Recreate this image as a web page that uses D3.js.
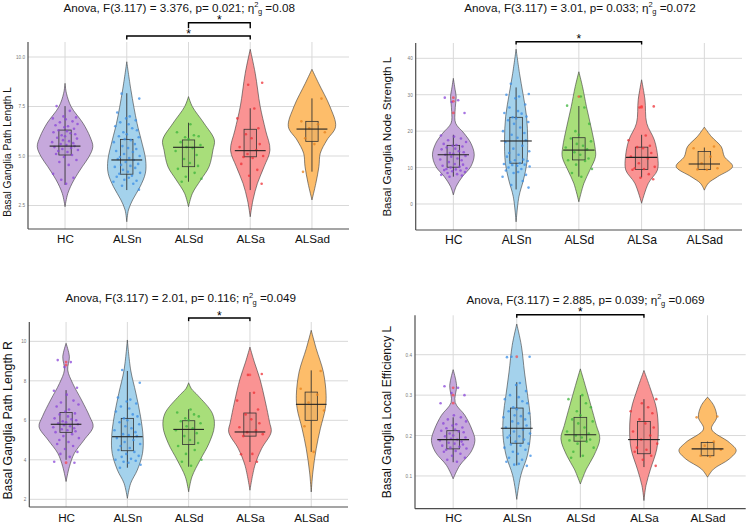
<!DOCTYPE html>
<html><head><meta charset="utf-8">
<script src="https://cdn.jsdelivr.net/npm/d3@7"></script>
<style>body{margin:0;background:#fff}svg{display:block}text{font-family:"Liberation Sans",Arial,sans-serif}</style>
</head><body>
<svg id="chart" width="750" height="524"></svg>
<script>
// ---------------- DATA ----------------
const groups = ["HC", "ALSn", "ALSd", "ALSa", "ALSad"];

const titlePre = [
  "Anova, F(3.117) = 3.376, p= 0.021; η",
  "Anova, F(3.117) = 3.01, p= 0.033; η",
  "Anova, F(3.117) = 2.01, p= 0.116; η",
  "Anova, F(3.117) = 2.885, p= 0.039; η"
];
const titlePost = [" =0.08", " =0.072", " =0.049", " =0.069"];
const yLabels = [
  "Basal Ganglia Path Length L",
  "Basal Ganglia Node Strength L",
  "Basal Ganglia Path Length R",
  "Basal Ganglia Local Efficiency L"
];
const yTicksTL = [2.5, 5.0, 7.5, 10.0];
const yTicksTR = [0, 10, 20, 30, 40];
const yTicksBL = [2, 4, 6, 8, 10];
const yTicksBR = [0.1, 0.2, 0.3, 0.4];
const tickFormats = [".1f", "d", "d", ".1f"];

// jittered observations per group (HC, ALSn, ALSd, ALSa, ALSad)
const pointsTL = [
  [7.52,7.28,7.0,6.95,6.9,6.85,6.75,6.7,6.62,6.55,6.5,6.45,6.38,6.3,6.25,6.2,6.15,6.1,6.05,6.0,5.92,5.88,5.8,5.75,5.7,5.65,5.6,5.55,5.5,5.45,5.4,5.35,5.3,5.25,5.2,5.1,5.05,4.95,4.8,4.7,4.55,4.1,3.9,3.8,3.6],
  [8.15,7.9,7.2,7.0,6.9,6.8,6.7,6.6,6.5,6.4,6.3,6.2,6.1,6.0,5.95,5.85,5.8,5.7,5.6,5.5,5.4,5.35,5.25,5.2,5.1,5.0,4.95,4.9,4.85,4.8,4.7,4.6,4.55,4.5,4.45,4.4,4.3,4.2,4.15,4.1,4.0,3.95,3.9,3.8,3.75,3.7,3.6,3.5,3.3],
  [6.6,6.2,6.05,6.0,5.95,5.85,5.7,5.55,5.45,5.4,5.25,5.05,4.85,4.65,4.5,4.35,4.15,3.95,3.85,3.7],
  [8.7,8.6,7.4,6.9,6.4,6.1,5.9,5.6,5.45,5.3,5.1,5.0,4.95,4.9,4.6,4.3,4.0,3.6],
  [7.9,6.75,6.6,6.4,6.2,5.9,5.6,4.2]
];
const pointsTR = [
  [29.2,28.5,28.0,25.0,18.8,18.5,18.0,17.5,17.0,16.5,16.2,16.0,15.8,15.5,15.2,15.0,14.5,14.2,14.0,13.8,13.5,13.2,13.0,12.5,12.2,12.0,11.5,11.0,10.8,10.5,10.2,10.0,9.8,9.6,9.5,9.3,9.2,9.0,8.8,8.5,8.2,8.0,7.8,7.5],
  [33,30.2,30,29.5,29,27.3,26.5,25.5,25,24.8,24,23.8,23.5,23,22.5,22,21,20,19.5,19,18.2,17.5,17,16,15.2,14.5,14,13.5,13,12.2,12,11.8,11.5,11.2,11,10.8,10.7,10.5,10.3,10,9.6,9.2,8.8,8.5,8,7.5,6.3,5.2,4.5],
  [29.5,27,26.5,22,20,19,18,17.2,16.5,16,15.5,15,14.2,13.5,12.5,12,11.8,10.8,9.6,8.5,7.5],
  [26.8,26.5,18.8,17.5,16,15.6,15.3,14,13,12.5,11.2,10.2,9.8,9.6,9.4,8.2,7.2,6.8],
  [15.8,15.3,13,11.2,9.8,9.5,9.4]
];
const pointsBL = [
  [9.05,8.95,8.7,7.65,7.5,7.3,7.0,6.9,6.8,6.7,6.55,6.45,6.35,6.3,6.2,6.1,6.05,6.0,5.95,5.9,5.85,5.8,5.75,5.7,5.65,5.6,5.55,5.5,5.45,5.4,5.3,5.2,5.1,5.0,4.9,4.8,4.7,4.55,4.4,4.3,4.15,3.9,3.85],
  [8.55,7.9,7.15,7.05,6.95,6.85,6.7,6.6,6.45,6.3,6.2,6.1,6.0,5.9,5.8,5.7,5.6,5.5,5.4,5.3,5.25,5.2,5.1,5.0,4.9,4.8,4.7,4.6,4.5,4.4,4.3,4.2,4.15,4.05,4.0,3.95,3.9,3.85,3.75,3.6],
  [6.55,6.4,6.3,6.2,6.1,6.0,5.95,5.85,5.7,5.6,5.5,5.35,5.2,5.0,4.85,4.7,4.5,4.3,4.0,3.9,3.7],
  [8.35,8.3,7.4,7.0,6.55,6.3,6.05,5.85,5.65,5.5,5.4,5.3,5.2,4.3,4.28,3.9],
  [8.5,7.6,7.3,6.9,6.5,5.7,4.4]
];
const pointsBR = [
  [0.322,0.318,0.305,0.3,0.28,0.25,0.245,0.24,0.235,0.23,0.228,0.225,0.22,0.218,0.215,0.212,0.21,0.208,0.205,0.2,0.198,0.195,0.192,0.19,0.188,0.185,0.182,0.18,0.178,0.175,0.172,0.17,0.168,0.165,0.162,0.16,0.155,0.15,0.145,0.14,0.135],
  [0.395,0.395,0.394,0.33,0.325,0.31,0.3,0.295,0.29,0.285,0.28,0.27,0.265,0.26,0.255,0.25,0.248,0.245,0.24,0.235,0.23,0.225,0.22,0.215,0.21,0.205,0.2,0.198,0.195,0.19,0.185,0.18,0.178,0.175,0.17,0.165,0.16,0.155,0.15,0.145,0.14,0.135,0.13,0.128,0.125],
  [0.3,0.29,0.28,0.27,0.26,0.25,0.24,0.235,0.23,0.22,0.21,0.205,0.2,0.195,0.19,0.188,0.185,0.18,0.17,0.16,0.15,0.145],
  [0.29,0.28,0.27,0.26,0.255,0.24,0.23,0.22,0.21,0.2,0.19,0.18,0.17,0.165,0.16,0.15,0.14,0.125],
  [0.247,0.245,0.185,0.175,0.165,0.15,0.148]
];

// boxplot outliers per group
const outliersTL = [[], [], [], [], []];
const outliersTR = [[29.2, 28.2, 25.0], [], [29.5], [26.8, 26.5], []];
const outliersBL = [[8.95, 8.8, 3.85], [], [], [8.3], []];
const outliersBR = [[0.318, 0.3, 0.28], [0.395], [], [], []];

// box stats: [lower whisker, q1, median, q3, upper whisker]
const boxesTL = [[3.54,5.05,5.5,6.31,7.52],[3.28,4.08,4.8,5.84,8.17],[3.7,4.46,5.44,5.81,6.68],[3.28,4.96,5.27,6.35,7.41],[4.21,5.74,6.36,6.75,7.91]];
const boxesTR = [[7.5,10.1,13.5,16.1,19],[4,11.2,17.3,23.8,32],[7.5,12.1,14.8,18.2,26.9],[7.3,9.5,12.8,15.6,19],[9.3,9.5,11,14.4,15.5]];
const boxesBL = [[4.0,5.39,5.8,6.4,7.53],[3.6,4.46,5.17,6.1,8.5],[3.65,4.78,5.54,5.98,6.56],[3.89,5.2,5.41,6.37,7.43],[4.4,6.0,6.81,7.43,8.53]];
const boxesBR = [[0.134,0.167,0.19,0.212,0.245],[0.126,0.181,0.218,0.268,0.332],[0.146,0.186,0.202,0.245,0.3],[0.122,0.155,0.19,0.235,0.29],[0.148,0.15,0.167,0.183,0.185]];

// violin density profiles: [value, relative density]
const violinsTL = [
  [[8.67,0],[8.17,0.05],[7.49,0.22],[6.65,0.65],[5.97,0.9],[5.47,1.0],[4.96,0.86],[4.46,0.62],[3.79,0.32],[3.11,0.1],[2.44,0]],
  [[9.76,0],[8.33,0.15],[6.65,0.37],[5.81,0.52],[4.8,0.68],[4.13,0.67],[3.45,0.48],[2.78,0.21],[2.27,0.06],[1.68,0]],
  [[8.0,0],[7.49,0.14],[6.65,0.56],[5.81,0.93],[5.3,0.88],[4.46,0.74],[3.79,0.44],[3.11,0.14],[2.44,0]],
  [[10.39,0],[9.18,0.18],[7.49,0.36],[6.31,0.55],[5.3,0.71],[4.46,0.5],[3.62,0.26],[2.78,0.1],[1.93,0]],
  [[9.38,0],[8.67,0.24],[7.49,0.65],[6.48,0.85],[5.81,0.54],[5.14,0.3],[4.46,0.25],[3.62,0.14],[2.78,0]]
];
const violinsTR = [
  [[34.5,0],[31.5,0.06],[29.5,0.1],[27.5,0.08],[25.4,0.06],[22.2,0.08],[19.4,0.38],[16.7,0.62],[13.5,0.74],[10.3,0.62],[7.5,0.32],[4.8,0.1],[2.5,0]],
  [[42.5,0],[35.9,0.12],[30.4,0.24],[24,0.37],[17.6,0.41],[11.2,0.38],[6.6,0.26],[2,0.1],[-4.9,0]],
  [[36.3,0],[32.2,0.13],[26.7,0.27],[21.2,0.43],[15.7,0.57],[13,0.59],[9.3,0.39],[5.7,0.18],[0.6,0]],
  [[34.1,0],[28.6,0.12],[22.2,0.18],[17.6,0.45],[13,0.57],[9.3,0.56],[5.7,0.24],[0.2,0]],
  [[21.1,0],[18.5,0.25],[15.7,0.6],[13,0.71],[10.3,1.0],[7.5,0.47],[5.7,0.14],[3.8,0]]
];
const violinsBL = [
  [[9.9,0],[9.22,0.12],[8.55,0.06],[7.87,0.24],[7.03,0.56],[6.18,0.86],[5.68,0.98],[5.0,0.65],[4.33,0.3],[3.65,0.12],[2.9,0]],
  [[10.07,0],[8.55,0.12],[7.37,0.31],[6.18,0.48],[5.17,0.57],[4.33,0.55],[3.48,0.36],[2.81,0.12],[2.05,0]],
  [[7.9,0],[7.6,0.1],[7.25,0.34],[6.35,0.86],[5.68,0.93],[4.84,0.74],[4.0,0.42],[3.14,0.12],[2.38,0]],
  [[9.71,0],[8.95,0.16],[8.1,0.36],[6.93,0.56],[5.91,0.71],[5.41,0.77],[4.56,0.42],[3.72,0.18],[2.46,0]],
  [[10.56,0],[9.63,0.18],[8.45,0.44],[7.27,0.54],[6.59,0.51],[5.57,0.33],[4.56,0.18],[3.38,0.06],[2.37,0]]
];
const violinsBR = [
  [[0.363,0],[0.324,0.12],[0.282,0.07],[0.25,0.41],[0.216,0.65],[0.188,0.76],[0.159,0.62],[0.126,0.23],[0.093,0]],
  [[0.476,0],[0.423,0.16],[0.357,0.27],[0.299,0.38],[0.25,0.47],[0.2,0.48],[0.15,0.37],[0.101,0.14],[0.042,0]],
  [[0.365,0],[0.324,0.17],[0.274,0.37],[0.225,0.56],[0.192,0.68],[0.15,0.47],[0.117,0.21],[0.08,0]],
  [[0.361,0],[0.315,0.23],[0.266,0.44],[0.216,0.5],[0.167,0.45],[0.117,0.23],[0.076,0.07],[0.039,0]],
  [[0.295,0],[0.274,0.22],[0.245,0.32],[0.216,0.14],[0.183,0.76],[0.163,1.0],[0.142,0.76],[0.117,0.21],[0.097,0]]
];

// significance comparisons: [group A, group B, bracket height in data units]
const compsTL = [["ALSn", "ALSa", 11.06], ["ALSd", "ALSa", 11.73]];
const compsTR = [["ALSn", "ALSa", 44.56]];
const compsBL = [["ALSd", "ALSa", 11.18]];
const compsBR = [["ALSn", "ALSa", 0.499]];

// ---------------- STYLE / LAYOUT ----------------
const violinFill = ["#c6a8dc", "#a4d2ec", "#a8de7a", "#fa9393", "#fdbd6a"];
const pointColor = ["#8a45d8", "#3a8ee6", "#3cb43c", "#ee3035", "#e6821e"];
const jitter = [-0.62,0.35,-0.12,0.81,-0.9,0.05,0.55,-0.38,0.92,-0.7,0.22,-0.05,0.66,-0.48,0.14,-0.85,0.4,0.75,-0.25,0.0,-0.58,0.88,-0.15,0.3,-0.95,0.6,-0.32,0.1,0.7,-0.78,0.45,-0.2,0.95,-0.5,0.18,-0.66,0.52,-0.08,0.84,-0.42,0.27,-0.88,0.62,-0.28,0.08,0.98,-0.55,0.38,-0.74,0.15,-0.18,0.72,-0.98,0.48,-0.35,0.9,-0.02,0.58,-0.82,0.25];

const layouts = [
  {left:28, right:349, top:42, bottom:229, yDomain:[1.313,10.758], titleX:179.2, titleY:11.5, ylabX:7.7, ylabY:152, ylabSize:10.2, xlabY:243.5, xlabSize:11.7, tips:[3.5,5.5]},
  {left:415.7, right:742, top:43, bottom:230, yDomain:[-7.14,44.2], titleX:580, titleY:11.5, ylabX:386.3, ylabY:136.7, ylabSize:11.6, xlabY:243.5, xlabSize:12.2, tips:[2.8]},
  {left:29.3, right:348, top:322, bottom:507, yDomain:[1.61,10.98], titleX:180.8, titleY:302, ylabX:7.7, ylabY:420.3, ylabSize:12.3, xlabY:522, xlabSize:11.7, tips:[3.3]},
  {left:415, right:745.7, top:315.3, bottom:508.7, yDomain:[0.019,0.4975], titleX:585.5, titleY:303.5, ylabX:387, ylabY:412, ylabSize:12.1, xlabY:522, xlabSize:11.7, tips:[3]}
];

const panelData = [
  {ticks:yTicksTL, points:pointsTL, outliers:outliersTL, boxes:boxesTL, violins:violinsTL, comps:compsTL},
  {ticks:yTicksTR, points:pointsTR, outliers:outliersTR, boxes:boxesTR, violins:violinsTR, comps:compsTR},
  {ticks:yTicksBL, points:pointsBL, outliers:outliersBL, boxes:boxesBL, violins:violinsBL, comps:compsBL},
  {ticks:yTicksBR, points:pointsBR, outliers:outliersBR, boxes:boxesBR, violins:violinsBR, comps:compsBR}
];

// ---------------- DRAW ----------------
const svg = d3.select("#chart");

panelData.forEach((P, pi) => {
  const L = layouts[pi];
  const g = svg.append("g");
  const x = d3.scalePoint().domain(groups).range([L.left, L.right]).padding(0.6);
  const y = d3.scaleLinear().domain(L.yDomain).range([L.bottom, L.top]);
  const step = x.step();
  const dW = d3.scaleLinear().domain([0, 1]).range([0, 0.45 * step]);

  // grid
  g.selectAll("line.hg").data(P.ticks).join("line").attr("class", "hg")
    .attr("x1", L.left).attr("x2", L.right)
    .attr("y1", d => y(d)).attr("y2", d => y(d))
    .attr("stroke", "#d9d9d9").attr("stroke-width", 1);
  g.selectAll("line.vg").data(groups).join("line").attr("class", "vg")
    .attr("x1", d => x(d)).attr("x2", d => x(d))
    .attr("y1", L.top).attr("y2", L.bottom)
    .attr("stroke", "#d9d9d9").attr("stroke-width", 1);

  groups.forEach((grp, i) => {
    const cx = x(grp);
    const area = d3.area()
      .y(d => y(d[0]))
      .x0(d => cx - dW(d[1]))
      .x1(d => cx + dW(d[1]))
      .curve(d3.curveCatmullRom.alpha(0.5));
    g.append("path").datum(P.violins[i]).attr("d", area)
      .attr("fill", violinFill[i]).attr("stroke", "#3a3a3a").attr("stroke-width", 0.6);

    const b = P.boxes[i];
    const bw = 0.1 * step;
    g.append("line").attr("x1", cx).attr("x2", cx).attr("y1", y(b[0])).attr("y2", y(b[4]))
      .attr("stroke", "#333").attr("stroke-width", 0.9);
    g.append("rect").attr("x", cx - bw).attr("width", 2 * bw)
      .attr("y", y(b[3])).attr("height", y(b[1]) - y(b[3]))
      .attr("fill", d3.color(violinFill[i]).darker(0.25)).attr("fill-opacity", 0.55)
      .attr("stroke", "#333").attr("stroke-width", 0.8);

    const off = i * 7;
    g.selectAll(null).data(P.points[i]).join("circle")
      .attr("cx", (d, k) => cx + jitter[(k + off) % jitter.length] * 0.22 * step)
      .attr("cy", d => y(d))
      .attr("r", 1.3)
      .attr("fill", pointColor[i]).attr("fill-opacity", 0.75);
    g.selectAll(null).data(P.outliers[i]).join("circle")
      .attr("cx", cx).attr("cy", d => y(d)).attr("r", 1.4)
      .attr("fill", "#ff3030").attr("fill-opacity", 0.6);

    g.append("line").attr("x1", cx - 0.25 * step).attr("x2", cx + 0.25 * step)
      .attr("y1", y(b[2])).attr("y2", y(b[2]))
      .attr("stroke", "#222").attr("stroke-width", 1.1);
  });

  // axis lines
  g.append("line").attr("x1", L.left).attr("x2", L.left).attr("y1", L.top).attr("y2", L.bottom)
    .attr("stroke", "#4d4d4d").attr("stroke-width", 1.2);
  g.append("line").attr("x1", L.left).attr("x2", L.right).attr("y1", L.bottom).attr("y2", L.bottom)
    .attr("stroke", "#4d4d4d").attr("stroke-width", 1.2);

  const ya = g.append("g").attr("transform", `translate(${L.left},0)`)
    .call(d3.axisLeft(y).tickValues(P.ticks).tickFormat(d3.format(tickFormats[pi])).tickSize(0).tickPadding(3));
  ya.select(".domain").remove();
  ya.selectAll("text").attr("font-size", 4.6).attr("fill", "#777").style("font-family", "'Liberation Sans',Arial,sans-serif");

  const pad = L.xlabY - L.bottom - 0.71 * L.xlabSize;
  const xa = g.append("g").attr("transform", `translate(0,${L.bottom})`)
    .call(d3.axisBottom(x).tickSize(0).tickPadding(pad));
  xa.select(".domain").remove();
  xa.selectAll("text").attr("font-size", L.xlabSize).attr("fill", "#111").style("font-family", "'Liberation Sans',Arial,sans-serif");

  g.append("text").attr("transform", `translate(${L.ylabX},${L.ylabY}) rotate(-90)`)
    .attr("text-anchor", "middle").attr("dominant-baseline", "central")
    .attr("font-size", L.ylabSize).attr("fill", "#111").text(yLabels[pi]);

  const t = g.append("text").attr("x", L.titleX).attr("y", L.titleY)
    .attr("text-anchor", "middle").attr("font-size", 11.7).attr("fill", "#111");
  t.append("tspan").text(titlePre[pi]);
  t.append("tspan").attr("font-size", 7.5).attr("dy", -4.5).text("2");
  t.append("tspan").attr("font-size", 7.5).attr("dx", -0.5).attr("dy", 7).text("g");
  t.append("tspan").attr("dy", -2.5).text(titlePost[pi]);

  P.comps.forEach((c, ci) => {
    const x1 = x(c[0]), x2 = x(c[1]), yy = y(c[2]), tip = L.tips[ci];
    g.append("path")
      .attr("d", `M${x1},${yy + tip}V${yy}H${x2}V${yy + tip}`)
      .attr("fill", "none").attr("stroke", "#000").attr("stroke-width", 1.4);
    g.append("text").attr("x", (x1 + x2) / 2).attr("y", yy + 1.5)
      .attr("text-anchor", "middle").attr("font-size", 12).attr("fill", "#000").text("*");
  });
});
</script>
</body></html>
